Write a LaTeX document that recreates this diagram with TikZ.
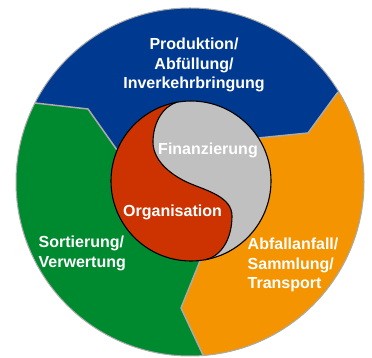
\documentclass[tikz,border=0pt]{standalone}
\usepackage{fontspec}
\setmainfont{Liberation Sans}
\usepackage{xcolor}
\usepackage{tikz}
\definecolor{produktion}{HTML}{003A90}
\definecolor{sammlung}{HTML}{F49400}
\definecolor{verwertung}{HTML}{008A30}
\definecolor{organisation}{HTML}{CC3300}
\definecolor{finanzierung}{HTML}{C0C0C0}
\colorlet{seam}{black!33}
\tikzset{
  % node options
  phase/.style={text=white,font=\bfseries\fontsize{16}{19.5}\selectfont,inner sep=0},
  phase center/.style={phase,align=center},
  phase left/.style={phase,align=left,anchor=north west},
  % path options
  seam line/.style={draw=seam,line width=1.5pt,line join=round},
  yinyang line/.style={draw=black,line width=1.1pt},
}
\begin{document}
\begin{tikzpicture}[x=1pt,y=1pt]
    \useasboundingbox (0,0) rectangle (372,358);
    % centres
    \coordinate (wheel) at (190,176);
    \coordinate (hub) at (191,177);
    % seams between the phases: outer end, bend, inner end
    \coordinate (bg out) at (35,255);  \coordinate (bg bend) at (88,249);  \coordinate (bg in) at (117,208);
    \coordinate (bo out) at (338,266); \coordinate (bo bend) at (308,225); \coordinate (bo in) at (258,220);
    \coordinate (go out) at (203,3);   \coordinate (go bend) at (181,50);  \coordinate (go in) at (200,97);
    % phases of the wheel
    \begin{scope}
      \clip (wheel) circle[radius=174pt];
      \fill[verwertung] (wheel) circle[radius=174pt];
      \fill[produktion] (bg in) -- (bg bend) -- (bg out) -- (0,255) -- (0,358) -- (372,358)
        -- (372,266) -- (bo out) -- (bo bend) -- (bo in) -- cycle;
      \fill[sammlung] (bo in) -- (bo bend) -- (bo out) -- (372,266) -- (372,-10) -- (204,-10)
        -- (go out) -- (go bend) -- (go in) -- cycle;
    \end{scope}
    \draw[seam line] (bg out) -- (bg bend) -- (bg in);
    \draw[seam line] (bo out) -- (bo bend) -- (bo in);
    \draw[seam line] (go out) -- (go bend) -- (go in);
    \draw[draw=seam,line width=1pt] (wheel) circle[radius=174pt];
    % yin and yang in the hub: tip, left bulge, middle, right bulge, tip
    \coordinate (yin top) at (177.1,255.8);
    \coordinate (yin left) at (153,216);
    \coordinate (yin mid) at (190,174.5);
    \coordinate (yin right) at (232,142);
    \coordinate (yin bottom) at (204.9,98.2);
    \fill[organisation] (hub) circle[radius=80pt];
    \fill[finanzierung] (yin top) arc[start angle=100,end angle=-80,radius=80pt]
      .. controls (221.8,101.6) and (232,120) .. (yin right)
      .. controls (232,161) and (206.6,167.5) .. (yin mid)
      .. controls (173.4,181.5) and (153,196) .. (yin left)
      .. controls (153,234) and (162,251.4) .. (yin top) -- cycle;
    \draw[yinyang line] (yin top) .. controls (162,251.4) and (153,234) .. (yin left)
      .. controls (153,196) and (173.4,181.5) .. (yin mid)
      .. controls (206.6,167.5) and (232,161) .. (yin right)
      .. controls (232,120) and (221.8,101.6) .. (yin bottom);
    \draw[yinyang line] (hub) circle[radius=80pt];
    % labels
    \node[phase center] (Produktion) at (194,292.8) {Produktion/\\Abfüllung/\\Inverkehrbringung};
    \node[phase left] (Sortierung) at (38.5,122) {Sortierung/\\Verwertung};
    \node[phase left] (Abfallanfall) at (247.5,120) {Abfallanfall/\\Sammlung/\\Transport};
    \node[phase,anchor=base] (Finanzierung) at (208,203) {Finanzierung};
    \node[phase,anchor=base] (Organisation) at (172.5,141) {Organisation};
  \end{tikzpicture}
\end{document}
